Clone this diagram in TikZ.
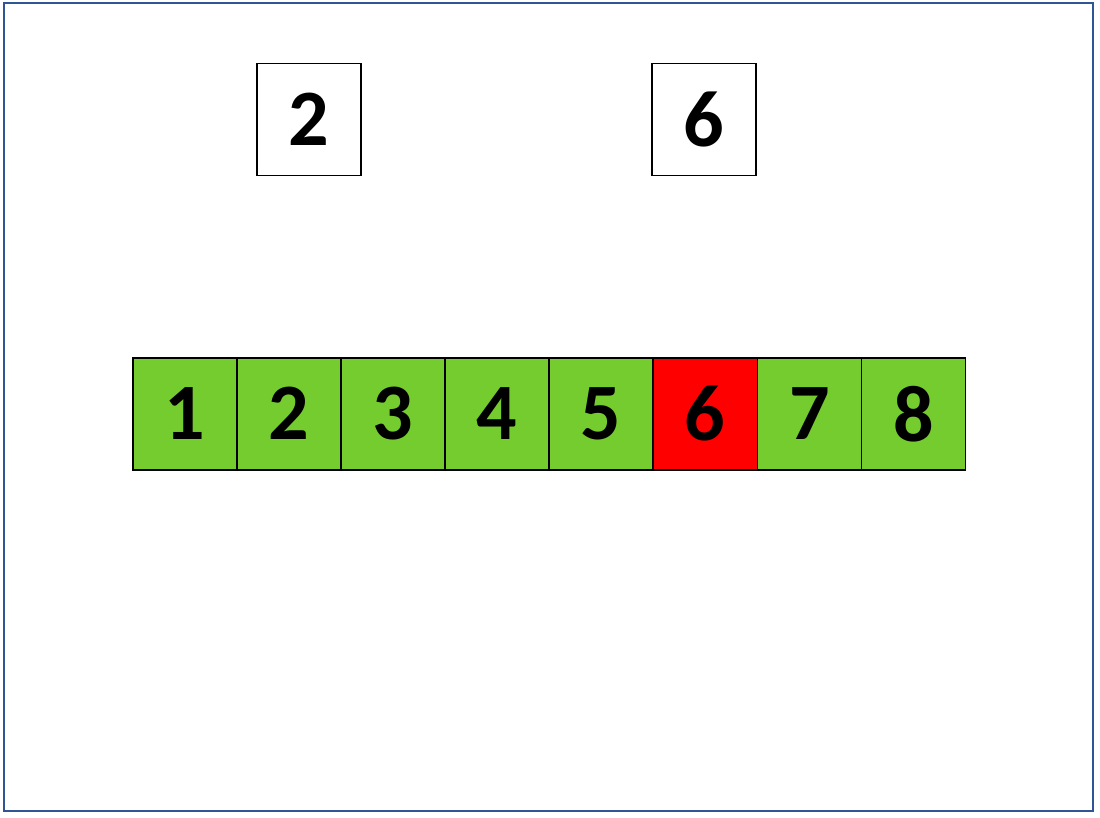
\documentclass[tikz,border=0pt]{standalone}
\usepackage{fontspec}
\setmainfont{Carlito}
\definecolor{framec}{HTML}{2F5597}
\definecolor{cellg}{HTML}{75CC2E}
\definecolor{cellr}{HTML}{FF0000}
\begin{document}
\begin{tikzpicture}[x=1pt,y=-1pt,
  cell/.style={draw=black,line width=1.5pt,minimum width=104pt,minimum height=112pt,inner sep=0pt,anchor=north west,font=\fontsize{80}{80}\selectfont\bfseries},
  topbox/.style={cell,fill=white}]
\useasboundingbox (0,0) rectangle (1100,818);
\fill[white] (0,0) rectangle (1100,818);
\draw[framec,line width=2pt] (4,3) rectangle (1093,811);
\node[topbox] (t2) at (256,63) {2};
\node[topbox] (t6) at (651,63) {6};
\foreach \i in {1,...,8}{
  \pgfmathsetmacro{\xx}{132+(\i-1)*104.1}
  \ifnum\i=6
    \node[cell,fill=cellr] (c\i) at (\xx,357) {\i};
  \else
    \node[cell,fill=cellg] (c\i) at (\xx,357) {\i};
  \fi
}
\end{tikzpicture}
\end{document}
